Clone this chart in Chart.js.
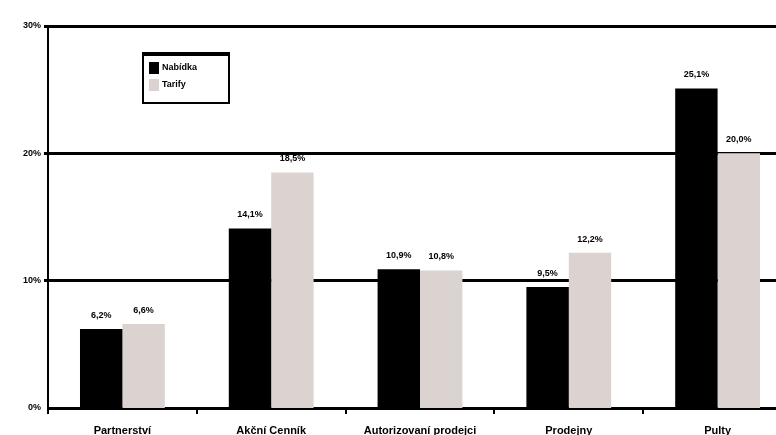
<!DOCTYPE html>
<html>
<head>
<meta charset="utf-8">
<script src="https://cdn.jsdelivr.net/npm/chart.js@4"></script>
<style>
  html, body { margin: 0; padding: 0; background: #fff; overflow: hidden; }
  #wrap { width: 800px; height: 435px; }
</style>
</head>
<body>
<div id="wrap"><canvas id="myChart" width="800" height="435"></canvas></div>
<script>
const categories = ["Partnerství", "Akční Cenník", "Autorizovaní prodejci", "Prodejny", "Pulty"];
const seriesNames = ["Nabídka", "Tarify"];
const seriesA = [6.2, 14.1, 10.9, 9.5, 25.1];
const seriesB = [6.6, 18.5, 10.8, 12.2, 20.0];
const yTicks = [0, 10, 20, 30];

const black = "#000000";
const grey = "#dad3d0";
const font = "Arial, 'Liberation Sans', sans-serif";

function pct(v) {
  return v.toFixed(1).replace(".", ",") + "%";
}

// value labels above each bar
const barLabels = {
  id: "barLabels",
  afterDatasetsDraw(chart) {
    const ctx = chart.ctx;
    ctx.save();
    ctx.font = "bold 9px " + font;
    ctx.fillStyle = black;
    ctx.textAlign = "center";
    ctx.textBaseline = "bottom";
    chart.data.datasets.forEach((ds, i) => {
      chart.getDatasetMeta(i).data.forEach((bar, j) => {
        ctx.fillText(pct(ds.data[j]), bar.x, bar.y - 9);
      });
    });
    ctx.restore();
  },
};

// boxed legend inside the plot area
const boxLegend = {
  id: "boxLegend",
  afterDraw(chart) {
    const ctx = chart.ctx;
    const x = 143, y = 53, w = 86, h = 50;
    ctx.save();
    ctx.fillStyle = "#fff";
    ctx.fillRect(x, y, w, h);
    ctx.strokeStyle = black;
    ctx.lineWidth = 2;
    ctx.strokeRect(x, y, w, h);
    ctx.fillStyle = black;
    ctx.fillRect(x, y - 1, w, 4);
    const colors = [black, grey];
    ctx.font = "bold 9px " + font;
    ctx.textBaseline = "middle";
    seriesNames.forEach((name, i) => {
      const cy = y + 15 + i * 17;
      ctx.fillStyle = colors[i];
      ctx.fillRect(x + 6, cy - 6, 10, 12);
      ctx.fillStyle = black;
      ctx.fillText(name, x + 19, cy);
    });
    ctx.restore();
  },
};

const data = {
  labels: categories,
  datasets: [
    { label: seriesNames[0], data: seriesA, backgroundColor: black },
    { label: seriesNames[1], data: seriesB, backgroundColor: grey },
  ],
};

const config = {
  type: "bar",
  data: data,
  options: {
    responsive: false,
    animation: false,
    layout: { padding: { top: 26, right: 8, left: 0, bottom: 0 } },
    datasets: { bar: { categoryPercentage: 0.57, barPercentage: 1.0 } },
    plugins: { legend: { display: false }, tooltip: { enabled: false } },
    scales: {
      x: {
        grid: {
          offset: true,
          drawOnChartArea: false,
          drawTicks: true,
          tickLength: 6,
          color: black,
          lineWidth: 2,
        },
        border: { color: black, width: 3 },
        ticks: {
          color: black,
          font: { family: font, size: 11, weight: "bold" },
          padding: 10,
          maxRotation: 0,
        },
        afterFit(scale) { scale.height = 27; },
      },
      y: {
        min: 0,
        max: 30,
        afterBuildTicks(scale) { scale.ticks = yTicks.map((v) => ({ value: v })); },
        grid: {
          color: black,
          lineWidth: (c) => (c.tick && c.tick.value === 0 ? 0 : 3),
          drawTicks: true,
          tickLength: 4,
        },
        border: { color: black, width: 2 },
        ticks: {
          color: black,
          font: { family: font, size: 9, weight: "bold" },
          padding: 3,
          callback: (v) => v + "%",
        },
        afterFit(scale) { scale.width = 48; },
      },
    },
  },
  plugins: [barLabels, boxLegend],
};

const myChart = new Chart(document.getElementById("myChart"), config);
</script>
</body>
</html>
